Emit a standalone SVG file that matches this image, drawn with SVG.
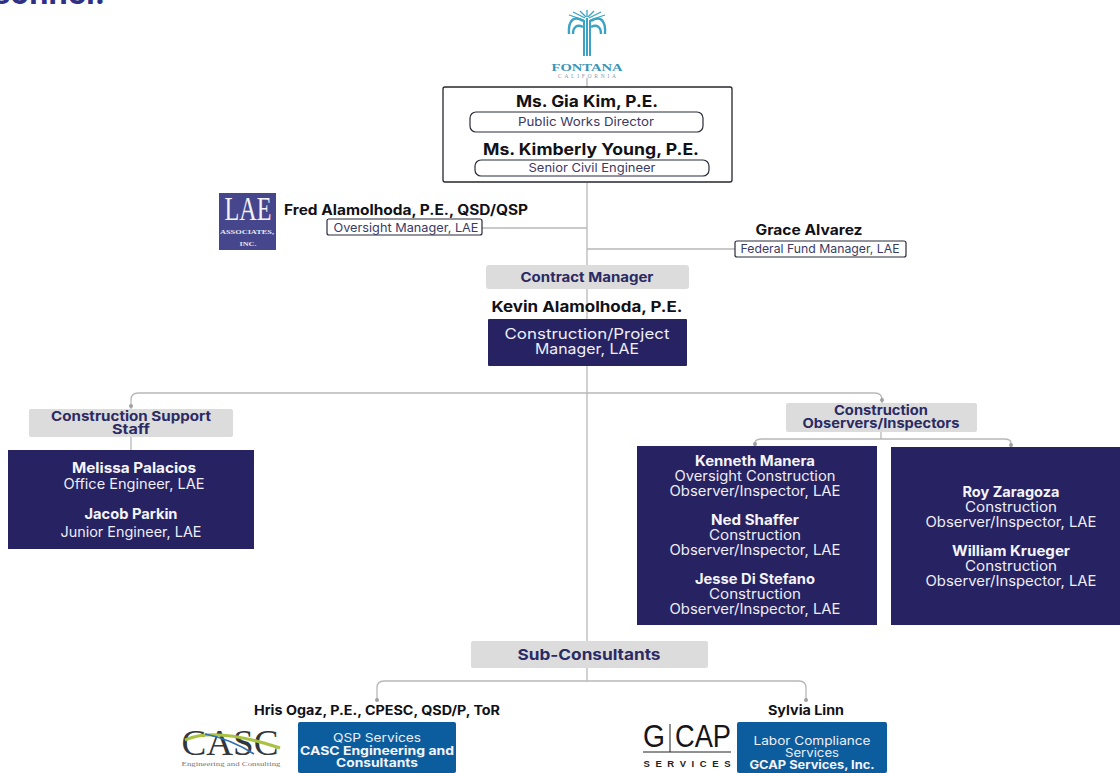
<svg xmlns="http://www.w3.org/2000/svg" width="1120" height="773" viewBox="0 0 1120 773">
<style>
text{font-family:"Inter","Liberation Sans",sans-serif;text-anchor:middle}
.s{font-family:"Liberation Serif",serif}
.k{fill:#111118;font-weight:700}
.d{fill:#3a3a66;font-weight:400}
.w{fill:#eeeef6;font-weight:400}
.wb{fill:#f4f4fa;font-weight:700}
.h{fill:#2b2a63;font-weight:700}
.navy{fill:#272261}
.grey{fill:#dcdcdc}
.blue{fill:#0c5d9e}
.pill{fill:#fff;stroke:#2a2a3a;stroke-width:1.2}
.ln{fill:none;stroke:#b8b8b8;stroke-width:1.3}
.dot{fill:#a0a0a0}
.pal{fill:none;stroke:#3ca3c4;stroke-width:2.4}
</style>
<rect width="1120" height="773" fill="#fff"/>
<text x="-7" y="4" font-size="31" font-weight="700" fill="#2f2f86" style="text-anchor:start" textLength="112" lengthAdjust="spacingAndGlyphs">sonnel:</text>

<g id="connectors">
<path class="ln" d="M587 78V87M587 183V641M587 668V681M482 228H587M587 249H735"/>
<path class="ln" d="M587 393H138Q131 393 131 400V409M587 393H875Q882 393 882 400V403"/>
<path class="ln" d="M131 437V451M881 432V439H762Q755 439 755 443V446M881 439H1004Q1011 439 1011 443V447"/>
<path class="ln" d="M587 681H384Q377 681 377 688V700M587 681H799Q806 681 806 688V700"/>
<circle class="dot" cx="131" cy="406" r="2"/><circle class="dot" cx="882" cy="400" r="2"/><circle class="dot" cx="755" cy="444" r="2"/><circle class="dot" cx="1011" cy="445" r="2"/><circle class="dot" cx="377" cy="700" r="2"/><circle class="dot" cx="806" cy="700" r="2"/>
</g>

<g id="fontana-logo">
<path d="M584 56V20M587 56V18M590 56V20" fill="none" stroke="#3ca3c4" stroke-width="2"/>
<path class="pal" d="M583 21C574 15 568 20 569 34"/>
<path class="pal" d="M591 21C600 15 606 20 605 34"/>
<path class="pal" d="M583 27C577 24 573 27 573 34"/>
<path class="pal" d="M591 27C597 24 601 27 601 34"/>
<path d="M569 15L584 20M573 12L585 18M580 11L586 17M587 10V17M594 11L588 17M601 12L589 18M605 15L590 20" fill="none" stroke="#3ca3c4" stroke-width="1.3"/>
<text class="s" x="587" y="71" font-size="11" fill="#3a95b8" font-weight="700" textLength="71" lengthAdjust="spacingAndGlyphs">FONTANA</text>
<text class="s" x="587" y="78" font-size="5.5" fill="#8a9aa5" textLength="58" lengthAdjust="spacing">CALIFORNIA</text>
</g>

<g id="directors">
<rect x="443" y="87" width="289" height="95" rx="2" fill="#fff" stroke="#26262e" stroke-width="1.3"/>
<text class="k" x="587" y="107" font-size="16" textLength="142" lengthAdjust="spacingAndGlyphs">Ms. Gia Kim, P.E.</text>
<rect class="pill" x="470" y="112" width="233" height="20" rx="6"/>
<text class="d" x="586" y="126" font-size="12" textLength="136" lengthAdjust="spacingAndGlyphs">Public Works Director</text>
<text class="k" x="591" y="155" font-size="16" textLength="216" lengthAdjust="spacingAndGlyphs">Ms. Kimberly Young, P.E.</text>
<rect class="pill" x="475" y="160" width="234" height="16" rx="6"/>
<text class="d" x="592" y="172" font-size="12" textLength="127" lengthAdjust="spacingAndGlyphs">Senior Civil Engineer</text>
</g>

<g id="oversight-manager">
<rect x="219" y="193" width="57" height="57" fill="#46468c"/>
<text class="s" x="248" y="220" font-size="34" fill="#f2f2f8" textLength="47" lengthAdjust="spacingAndGlyphs">LAE</text>
<text class="s" x="247" y="234" font-size="7" font-weight="700" fill="#e6e6f2" textLength="54" lengthAdjust="spacingAndGlyphs">ASSOCIATES,</text>
<text class="s" x="248" y="246" font-size="7" font-weight="700" fill="#e6e6f2" textLength="17" lengthAdjust="spacingAndGlyphs">INC.</text>
<text class="k" x="406" y="215" font-size="14" textLength="244" lengthAdjust="spacingAndGlyphs">Fred Alamolhoda, P.E., QSD/QSP</text>
<rect class="pill" x="327" y="219" width="155" height="16" rx="2"/>
<text class="d" x="406" y="232" font-size="12" textLength="145" lengthAdjust="spacingAndGlyphs">Oversight Manager, LAE</text>
</g>

<g id="federal-fund-manager">
<text class="k" x="809" y="235" font-size="14" textLength="107" lengthAdjust="spacingAndGlyphs">Grace Alvarez</text>
<rect class="pill" x="735" y="241" width="171" height="16" rx="2"/>
<text class="d" x="820" y="253" font-size="12" textLength="159" lengthAdjust="spacingAndGlyphs">Federal Fund Manager, LAE</text>
</g>

<g id="contract-manager">
<rect class="grey" x="486" y="265" width="203" height="24" rx="3"/>
<text class="h" x="587" y="282" font-size="13" textLength="133" lengthAdjust="spacingAndGlyphs">Contract Manager</text>
<text class="k" x="587" y="312" font-size="15" textLength="191" lengthAdjust="spacingAndGlyphs">Kevin Alamolhoda, P.E.</text>
<rect class="navy" x="488" y="319" width="199" height="47" rx="1"/>
<text class="w" x="587" y="339" font-size="14.5" textLength="165" lengthAdjust="spacingAndGlyphs">Construction/Project</text>
<text class="w" x="587" y="354" font-size="14.5" textLength="104" lengthAdjust="spacingAndGlyphs">Manager, LAE</text>
</g>

<g id="support-staff">
<rect class="grey" x="29" y="409" width="204" height="28" rx="2"/>
<text class="h" x="131" y="421" font-size="13" textLength="160" lengthAdjust="spacingAndGlyphs">Construction Support</text>
<text class="h" x="131" y="434" font-size="13" textLength="38" lengthAdjust="spacingAndGlyphs">Staff</text>
<rect class="navy" x="8" y="450" width="246" height="99"/>
<text class="wb" x="134" y="473" font-size="14" textLength="124" lengthAdjust="spacingAndGlyphs">Melissa Palacios</text>
<text class="w" x="134" y="489" font-size="14" textLength="141" lengthAdjust="spacingAndGlyphs">Office Engineer, LAE</text>
<text class="wb" x="131" y="519" font-size="14" textLength="93" lengthAdjust="spacingAndGlyphs">Jacob Parkin</text>
<text class="w" x="131" y="537" font-size="14" textLength="141" lengthAdjust="spacingAndGlyphs">Junior Engineer, LAE</text>
</g>

<g id="observers-header">
<rect class="grey" x="786" y="403" width="191" height="29" rx="2"/>
<text class="h" x="881" y="415" font-size="13" textLength="94" lengthAdjust="spacingAndGlyphs">Construction</text>
<text class="h" x="881" y="428" font-size="13" textLength="157" lengthAdjust="spacingAndGlyphs">Observers/Inspectors</text>
</g>

<g id="observers-left">
<rect class="navy" x="637" y="446" width="240" height="179"/>
<text class="wb" x="755" y="466" font-size="14" textLength="120" lengthAdjust="spacingAndGlyphs">Kenneth Manera</text>
<text class="w" x="755" y="481" font-size="14" textLength="161" lengthAdjust="spacingAndGlyphs">Oversight Construction</text>
<text class="w" x="755" y="496" font-size="14" textLength="171" lengthAdjust="spacingAndGlyphs">Observer/Inspector, LAE</text>
<text class="wb" x="755" y="525" font-size="14" textLength="88" lengthAdjust="spacingAndGlyphs">Ned Shaffer</text>
<text class="w" x="755" y="540" font-size="14" textLength="92" lengthAdjust="spacingAndGlyphs">Construction</text>
<text class="w" x="755" y="555" font-size="14" textLength="171" lengthAdjust="spacingAndGlyphs">Observer/Inspector, LAE</text>
<text class="wb" x="755" y="584" font-size="14" textLength="120" lengthAdjust="spacingAndGlyphs">Jesse Di Stefano</text>
<text class="w" x="755" y="599" font-size="14" textLength="92" lengthAdjust="spacingAndGlyphs">Construction</text>
<text class="w" x="755" y="614" font-size="14" textLength="171" lengthAdjust="spacingAndGlyphs">Observer/Inspector, LAE</text>
</g>

<g id="observers-right">
<rect class="navy" x="891" y="447" width="229" height="178"/>
<text class="wb" x="1011" y="497" font-size="14" textLength="97" lengthAdjust="spacingAndGlyphs">Roy Zaragoza</text>
<text class="w" x="1011" y="512" font-size="14" textLength="92" lengthAdjust="spacingAndGlyphs">Construction</text>
<text class="w" x="1011" y="527" font-size="14" textLength="171" lengthAdjust="spacingAndGlyphs">Observer/Inspector, LAE</text>
<text class="wb" x="1011" y="556" font-size="14" textLength="118" lengthAdjust="spacingAndGlyphs">William Krueger</text>
<text class="w" x="1011" y="571" font-size="14" textLength="92" lengthAdjust="spacingAndGlyphs">Construction</text>
<text class="w" x="1011" y="586" font-size="14" textLength="171" lengthAdjust="spacingAndGlyphs">Observer/Inspector, LAE</text>
</g>

<g id="sub-consultants">
<rect class="grey" x="471" y="641" width="237" height="27" rx="2"/>
<text class="h" x="589" y="660" font-size="15" textLength="143" lengthAdjust="spacingAndGlyphs">Sub-Consultants</text>
</g>

<g id="casc">
<text class="k" x="377" y="715" font-size="13" textLength="246" lengthAdjust="spacingAndGlyphs">Hris Ogaz, P.E., CPESC, QSD/P, ToR</text>
<text class="s" x="230" y="755" font-size="36" fill="#33363b" textLength="97" lengthAdjust="spacingAndGlyphs">CASC</text>
<path d="M185 740C205 731 235 733 280 748" fill="none" stroke="#a9c23f" stroke-width="3"/>
<path d="M205 734C225 738 240 745 254 754" fill="none" stroke="#2c6fb0" stroke-width="1.6"/>
<text class="s" x="231" y="766" font-size="7" fill="#777" textLength="99" lengthAdjust="spacingAndGlyphs">Engineering and Consulting</text>
<rect class="blue" x="298" y="722" width="158" height="51" rx="2"/>
<text class="w" x="377" y="742" font-size="12" textLength="88" lengthAdjust="spacingAndGlyphs">QSP Services</text>
<text class="wb" x="377" y="755" font-size="12" textLength="154" lengthAdjust="spacingAndGlyphs">CASC Engineering and</text>
<text class="wb" x="377" y="767" font-size="12" textLength="82" lengthAdjust="spacingAndGlyphs">Consultants</text>
</g>

<g id="gcap">
<text class="k" x="806" y="715" font-size="13" textLength="76" lengthAdjust="spacingAndGlyphs">Sylvia Linn</text>
<text x="654" y="747" font-size="31" fill="#15151a" style="font-family:'Liberation Sans',sans-serif" textLength="22" lengthAdjust="spacingAndGlyphs">G</text>
<text x="703" y="747" font-size="31" fill="#15151a" style="font-family:'Liberation Sans',sans-serif" textLength="56" lengthAdjust="spacingAndGlyphs">CAP</text>
<path d="M670 724V752M643 752H731" stroke="#222" stroke-width="1" fill="none"/>
<text x="687" y="767" font-size="9.5" font-weight="700" fill="#222" style="font-family:'Liberation Sans',sans-serif" textLength="87">SERVICES</text>
<rect class="blue" x="737" y="722" width="150" height="51" rx="2"/>
<text class="w" x="812" y="745" font-size="11.5" textLength="117" lengthAdjust="spacingAndGlyphs">Labor Compliance</text>
<text class="w" x="812" y="757" font-size="11.5" textLength="54" lengthAdjust="spacingAndGlyphs">Services</text>
<text class="wb" x="812" y="769" font-size="11.5" textLength="125" lengthAdjust="spacingAndGlyphs">GCAP Services, Inc.</text>
</g>
</svg>
